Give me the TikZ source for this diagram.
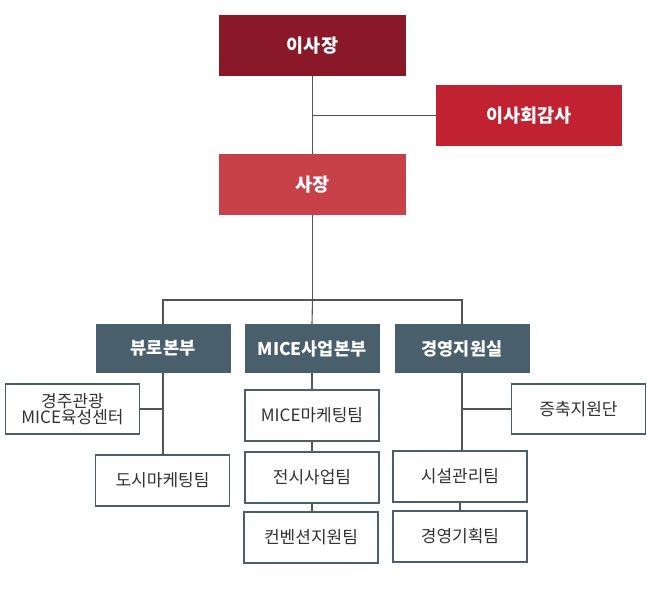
\documentclass[tikz,border=0pt]{standalone}
\usepackage{fontspec}
\setmainfont{Noto Sans CJK KR}
\usepackage{tikz}
\definecolor{chair}{RGB}{137,24,41}
\definecolor{audit}{RGB}{192,34,49}
\definecolor{pres}{RGB}{200,64,72}
\definecolor{dept}{RGB}{74,95,108}
\definecolor{wire}{RGB}{85,85,85}
\definecolor{ink}{RGB}{51,51,51}
\tikzset{
  topbox/.style={fill=#1, text=white, minimum width=187, minimum height=61, inner sep=0pt, font=\fontsize{18.5}{22}\selectfont\bfseries},
  deptbox/.style={fill=dept, text=white, minimum width=135, minimum height=49, inner sep=0pt, font=\fontsize{17.5}{21}\selectfont\bfseries},
  teambox/.style={draw=dept, line width=1.2pt, fill=white, text=ink, minimum width=134, minimum height=50, inner sep=0pt, align=center, font=\fontsize{17}{19}\selectfont},
  link/.style={draw=wire, line width=1.1pt}
}

\begin{document}
\begin{tikzpicture}[x=1pt,y=1pt,yscale=-1,xscale=1]
\useasboundingbox (0,0) rectangle (647,589);

%top level
\node [topbox=chair] (chair) at (312.5,45.5) {이사장};
\node [topbox=audit, minimum width=186] (audit) at (529,115.5) {이사회감사};
\node [topbox=pres] (pres) at (312.5,184.5) {사장};

%departments
\node [deptbox] (bureau) at (163,348.5) {뷰로본부};
\node [deptbox] (mice) at (312,348.5) {MICE사업본부};
\node [deptbox] (mgmt) at (462,348.5) {경영지원실};

%teams
\node [teambox] (center) at (72.5,409) {경주관광\\[-3pt]MICE육성센터};
\node [teambox, minimum height=51] (citymkt) at (162.5,480.5) {도시마케팅팀};
\node [teambox, minimum height=51] (micemkt) at (312,415.5) {MICE마케팅팀};
\node [teambox, minimum height=51] (exhib) at (312,477.5) {전시사업팀};
\node [teambox, minimum height=51] (conv) at (311,537.5) {컨벤션지원팀};
\node [teambox] (expand) at (578.5,409) {증축지원단};
\node [teambox, minimum height=51] (facil) at (460,476.5) {시설관리팀};
\node [teambox, minimum height=51] (plan) at (460,536.5) {경영기획팀};

\coordinate (bar) at (312.5,300);

%connectors
\draw [link] (chair.south) -- (pres.north);
\draw [link] (audit.west) -- (audit.west -| chair.south);
\draw [link] (pres.south) -- (bar);
\draw [link] (bureau.north) |- (bar) -| (mgmt.north);
\draw [link] (bar) -- (mice.north);
\draw [link] (bureau.south) -- (bureau.south |- citymkt.north);
\draw [link] (center.east) -- (center.east -| bureau.south);
\draw [link] (mice.south) -- (mice.south |- micemkt.north);
\draw [link] (micemkt.south) -- (exhib.north);
\draw [link] (exhib.south) -- (exhib.south |- conv.north);
\draw [link] (mgmt.south) -- (mgmt.south |- facil.north);
\draw [link] (expand.west) -- (expand.west -| mgmt.south);
\draw [link] (facil.south) -- (plan.north);

\end{tikzpicture}
\end{document}
